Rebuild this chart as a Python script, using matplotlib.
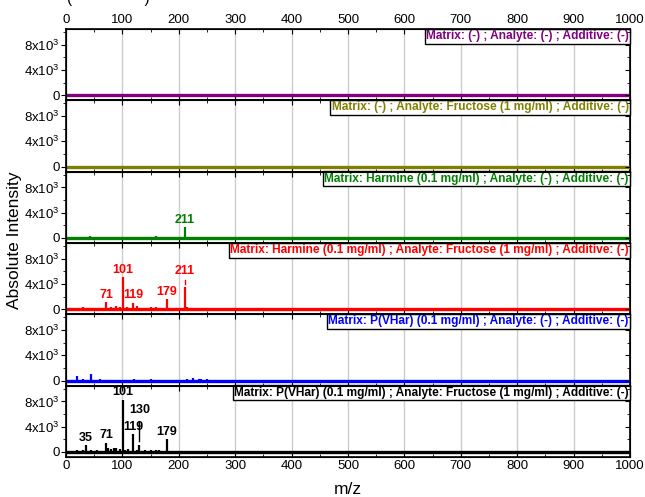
import numpy as np
import matplotlib
matplotlib.use('Agg')
import matplotlib.pyplot as plt
from matplotlib.ticker import MultipleLocator, FixedLocator, FixedFormatter

plt.rcParams['font.family'] = ['Liberation Sans', 'DejaVu Sans']
plt.rcParams['mathtext.fontset'] = 'custom'
plt.rcParams['mathtext.rm'] = 'Liberation Sans'

# spectra, top to bottom
titles = ['Matrix: (-) ; Analyte: (-) ; Additive: (-)',
          'Matrix: (-) ; Analyte: Fructose (1 mg/ml) ; Additive: (-)',
          'Matrix: Harmine (0.1 mg/ml) ; Analyte: (-) ; Additive: (-)',
          'Matrix: Harmine (0.1 mg/ml) ; Analyte: Fructose (1 mg/ml) ; Additive: (-)',
          'Matrix: P(VHar) (0.1 mg/ml) ; Analyte: (-) ; Additive: (-)',
          'Matrix: P(VHar) (0.1 mg/ml) ; Analyte: Fructose (1 mg/ml) ; Additive: (-)']
colors = ['#800080', '#808000', '#008000', '#ff0000', '#0000ff', '#000000']

mz_blank = [220, 260, 310, 360, 420, 480, 540, 600, 660, 720, 800, 870]
int_blank = [60, 50, 80, 60, 70, 90, 60, 70, 50, 60, 80, 50]

mz_fru = [52, 149, 210, 300, 450, 539, 750]
int_fru = [80, 150, 120, 90, 100, 160, 110]

mz_harm = [20, 30, 43, 50, 60, 75, 90, 110, 125, 140, 160, 175, 190, 211, 230, 250, 270, 300, 350, 420]
int_harm = [150, 200, 250, 200, 150, 180, 200, 150, 200, 150, 250, 150, 120, 1750, 200, 150, 120, 100, 80, 60]

mz_harm_fru = [30, 55, 71, 80, 88, 95, 101, 108, 119, 125, 150, 160, 179, 190, 211, 215, 250, 340, 660]
int_harm_fru = [300, 250, 1100, 400, 500, 350, 5060, 300, 1060, 450, 350, 300, 1600, 250, 3570, 300, 150, 100, 100]

mz_pvhar = [19, 30, 45, 60, 90, 110, 120, 150, 180, 215, 225, 235, 240, 250, 300, 400, 520, 700, 880]
int_pvhar = [700, 200, 1070, 300, 150, 150, 200, 300, 150, 250, 350, 300, 250, 250, 100, 80, 100, 80, 80]

mz_pvhar_fru = [20, 30, 35, 45, 55, 71, 75, 80, 85, 88, 95, 101, 105, 110, 119, 125, 130, 140,
                150, 160, 165, 179, 190, 205, 220, 240, 280, 365, 375, 500, 560]
int_pvhar_fru = [250, 250, 1070, 250, 300, 1440, 700, 400, 600, 700, 400, 8270, 300, 400, 2830, 300,
                 1070, 300, 300, 300, 300, 2030, 200, 200, 200, 200, 150, 100, 100, 100, 80]

spectra = [(mz_blank, int_blank), (mz_fru, int_fru), (mz_harm, int_harm),
           (mz_harm_fru, int_harm_fru), (mz_pvhar, int_pvhar), (mz_pvhar_fru, int_pvhar_fru)]

# labelled peaks per panel: (m/z, label)
peak_labels = [[], [], [(211, '211')],
               [(71, '71'), (101, '101'), (119, '119'), (179, '179'), (211, '211')],
               [],
               [(35, '35'), (71, '71'), (101, '101'), (119, '119'), (130, '130'), (179, '179')]]

fig = plt.figure(figsize=(6.45, 4.97), dpi=100)
left, right, top, bottom = 66 / 645, 630 / 645, 1 - 29 / 497, 1 - 457 / 497
n = len(titles)
h = (top - bottom) / n

for i in range(n):
    ax = fig.add_axes([left, top - (i + 1) * h, right - left, h])
    col = colors[i]
    mz, inten = spectra[i]
    ax.set_xlim(0, 1000)
    ax.set_ylim(-800, 10500)
    ax.grid(axis='x', color='#cccccc', lw=1, zorder=0)
    ax.axhline(0, color=col, lw=2.4, zorder=3)
    ax.vlines(mz, 0, inten, color=col, lw=1.6, zorder=3)

    lookup = dict(zip(mz, inten))
    for m, lab in peak_labels[i]:
        yv = lookup[m]
        off = 1
        if lab == '130':
            off = 21
            ax.plot([m, m], [yv + 600, yv + 3600], color=col, lw=1, zorder=3)
        if i == 3 and lab == '211':
            off = 7
            ax.plot([m, m], [yv + 500, yv + 1100], color=col, lw=1, zorder=3)
        ax.annotate(lab, xy=(m, yv), xytext=(0, off), textcoords='offset points',
                    ha='center', va='bottom', color=col, fontsize=9,
                    fontweight='bold', zorder=4)

    ax.text(0.998, 0.985, titles[i], transform=ax.transAxes, ha='right', va='top',
            color=col, fontsize=8.6, fontweight='bold', zorder=5,
            bbox=dict(boxstyle='square,pad=0.12', fc='white', ec='black', lw=1))

    ax.xaxis.set_major_locator(MultipleLocator(100))
    ax.xaxis.set_minor_locator(MultipleLocator(50))
    ax.yaxis.set_major_locator(FixedLocator([0, 4000, 8000]))
    ax.yaxis.set_major_formatter(FixedFormatter(['0', r'$\mathregular{4x10^3}$', r'$\mathregular{8x10^3}$']))
    ax.yaxis.set_minor_locator(FixedLocator([2000, 6000, 10000]))
    ax.tick_params(axis='y', which='both', direction='out', left=True, right=False,
                   labelsize=9.5, pad=1)
    ax.tick_params(axis='y', which='major', length=3.5)
    ax.tick_params(axis='y', which='minor', length=2)
    ax.tick_params(axis='x', which='both', direction='in', top=True, bottom=True,
                   labelbottom=(i == n - 1), labeltop=(i == 0), labelsize=9.5, pad=2)
    ax.tick_params(axis='x', which='major', length=3.5)
    ax.tick_params(axis='x', which='minor', length=2)
    for s in ax.spines.values():
        s.set_linewidth(1.2)

    # right-hand ticks pointing inwards
    ax2 = ax.twinx()
    ax2.set_ylim(ax.get_ylim())
    ax2.yaxis.set_major_locator(FixedLocator([0, 4000, 8000]))
    ax2.yaxis.set_minor_locator(FixedLocator([2000, 6000, 10000]))
    ax2.tick_params(axis='y', which='both', direction='in', labelright=False)
    ax2.tick_params(axis='y', which='major', length=3.5)
    ax2.tick_params(axis='y', which='minor', length=2)

fig.text(0.022, 1 - 240 / 497, 'Absolute Intensity', rotation=90,
         ha='center', va='center', fontsize=12.5)
fig.text(348 / 645, 1 - 489 / 497, 'm/z', ha='center', va='center', fontsize=12.5)
fig.text(0.104, 1 - 3 / 497, '(                 )', ha='left', va='baseline', fontsize=11)

fig.savefig('out.png', dpi=100)
